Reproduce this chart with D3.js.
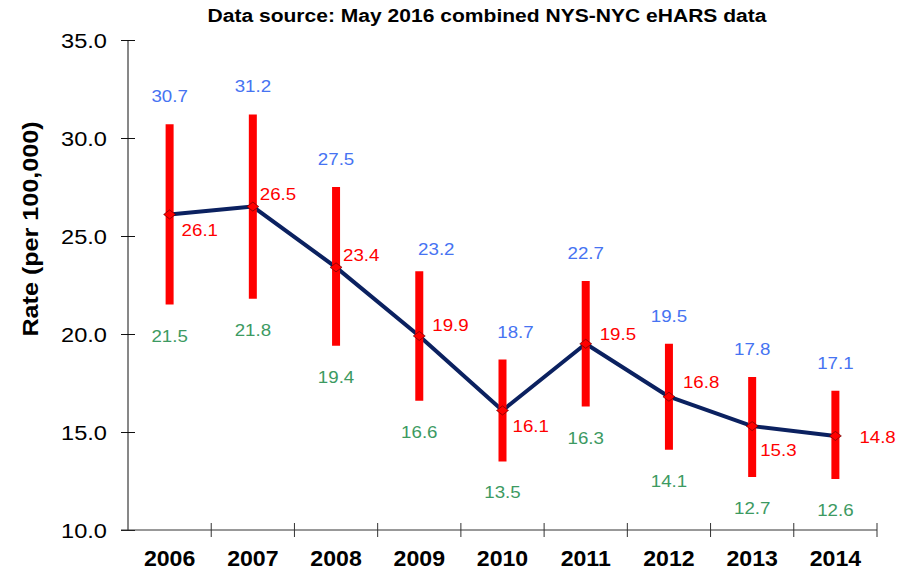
<!DOCTYPE html>
<html>
<head>
<meta charset="utf-8">
<script src="https://cdn.jsdelivr.net/npm/d3@7"></script>
<style>
  html, body { margin: 0; padding: 0; background: #fff; }
  svg { display: block; font-family: "Liberation Sans", Arial, sans-serif; }
</style>
</head>
<body>
<svg id="chart" width="906" height="571"></svg>
<script>
// ---- data ----
const years = ["2006", "2007", "2008", "2009", "2010", "2011", "2012", "2013", "2014"];
const rate  = [26.1, 26.5, 23.4, 19.9, 16.1, 19.5, 16.8, 15.3, 14.8];
const upper = [30.7, 31.2, 27.5, 23.2, 18.7, 22.7, 19.5, 17.8, 17.1];
const lower = [21.5, 21.8, 19.4, 16.6, 13.5, 16.3, 14.1, 12.7, 12.6];
const yTicks = [10, 15, 20, 25, 30, 35];
const titleText = "Data source: May 2016 combined NYS-NYC eHARS data";
const yTitle = "Rate (per 100,000)";

// ---- layout (label nudges, pixels) ----
const rateLabelNudge = [[12, 22], [7, -7], [7, -6], [13, -5], [10, 22], [14, -4], [14, -9], [8, 30], [24, 7]];
const upperLabelNudge = [[0, -22], [0, -22], [0, -22], [17, -16], [13, -21], [0, -22], [0, -22], [0, -22], [0, -22]];

const svg = d3.select("#chart");
const pL = 128, pR = 877, pT = 40, pB = 530;
const FONT = "'Liberation Sans', Arial, sans-serif";

const x = d3.scaleBand().domain(years).range([pL, pR]).padding(0);
const y = d3.scaleLinear().domain([10, 35]).range([pB, pT]);
const cx = d => x(d) + x.bandwidth() / 2;

// title
svg.append("text")
  .attr("transform", "translate(487,22) scale(1.15,1)")
  .attr("text-anchor", "middle")
  .attr("font-weight", "bold").attr("font-size", 18.3)
  .text(titleText);

// y title
svg.append("text")
  .attr("transform", "translate(38,229) rotate(-90) scale(1.17,1)")
  .attr("text-anchor", "middle")
  .attr("font-weight", "bold").attr("font-size", 21.5)
  .text(yTitle);

// y axis
const yAxis = svg.append("g")
  .attr("transform", `translate(${pL},0)`)
  .call(d3.axisLeft(y).tickValues(yTicks).tickFormat(d3.format(".1f")).tickSize(0).tickPadding(0));
yAxis.select(".domain").attr("d", `M0,${pT}V${pB}`).attr("stroke", "#111");
yAxis.selectAll(".tick line").attr("x1", -7).attr("x2", 7).attr("stroke", "#111");
yAxis.selectAll(".tick text")
  .attr("x", 0).attr("y", 0).attr("dy", null)
  .attr("transform", "translate(-21,7.8) scale(1.125,1)")
  .attr("text-anchor", "end")
  .attr("font-size", 21).attr("fill", "#000")
  .attr("font-family", FONT);

// x axis
const xAxis = svg.append("g")
  .attr("transform", `translate(0,${pB})`)
  .call(d3.axisBottom(x).tickSize(0).tickPadding(0));
xAxis.select(".domain").attr("d", `M${pL - 7},0H${pR}`).attr("stroke", "#333");
xAxis.selectAll(".tick line").remove();
xAxis.selectAll(".tick text")
  .attr("x", 0).attr("y", 0).attr("dy", null)
  .attr("transform", "translate(0,36) scale(1.08,1)")
  .attr("font-size", 21.4).attr("font-weight", "bold").attr("fill", "#000")
  .attr("font-family", FONT);
// category boundary ticks
const bounds = years.map(d => x(d)).concat([x(years[years.length - 1]) + x.bandwidth()]).slice(1);
xAxis.selectAll(".bnd").data(bounds).enter().append("line")
  .attr("x1", d => d).attr("x2", d => d)
  .attr("y1", -7).attr("y2", 7)
  .attr("stroke", "#333");

// line
const line = d3.line().x((d, i) => cx(years[i])).y(d => y(d));
svg.append("path")
  .datum(rate)
  .attr("d", line)
  .attr("fill", "none")
  .attr("stroke", "#0b2160")
  .attr("stroke-width", 4)
  .attr("stroke-linejoin", "round");

// error bars
svg.selectAll(".err").data(years).enter().append("line")
  .attr("x1", d => cx(d)).attr("x2", d => cx(d))
  .attr("y1", (d, i) => y(upper[i])).attr("y2", (d, i) => y(lower[i]))
  .attr("stroke", "#ff0000").attr("stroke-width", 8);

// markers
svg.selectAll(".mk").data(years).enter().append("path")
  .attr("transform", (d, i) => `translate(${cx(d)},${y(rate[i])})`)
  .attr("d", "M-6,0L0,-4.5L6,0L0,4.5Z")
  .attr("fill", "#ff0000").attr("stroke", "#550000").attr("stroke-width", 0.6);

// labels
const SX = 1.1;
const lbl = svg.append("g").attr("font-size", 17);
lbl.selectAll(".up").data(years).enter().append("text")
  .attr("transform", (d, i) => `translate(${cx(d) + upperLabelNudge[i][0]},${y(upper[i]) + upperLabelNudge[i][1]}) scale(${SX},1)`)
  .attr("text-anchor", "middle").attr("fill", "#4673f2")
  .text((d, i) => upper[i].toFixed(1));
lbl.selectAll(".lo").data(years).enter().append("text")
  .attr("transform", (d, i) => `translate(${cx(d)},${y(lower[i]) + 37}) scale(${SX},1)`)
  .attr("text-anchor", "middle").attr("fill", "#3c9a62")
  .text((d, i) => lower[i].toFixed(1));
lbl.selectAll(".mid").data(years).enter().append("text")
  .attr("transform", (d, i) => `translate(${cx(d) + rateLabelNudge[i][0]},${y(rate[i]) + rateLabelNudge[i][1]}) scale(${SX},1)`)
  .attr("text-anchor", "start").attr("fill", "#ff0000")
  .text((d, i) => rate[i].toFixed(1));
</script>
</body>
</html>
